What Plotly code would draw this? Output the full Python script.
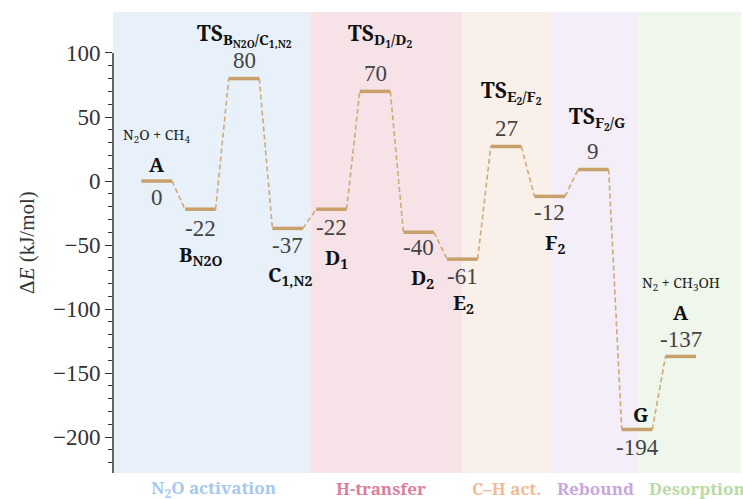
import plotly.graph_objects as go

# Reaction pathway: N2O + CH4 -> N2 + CH3OH
steps = list(range(13))
energies = [0, -22, 80, -37, -22, 70, -40, -61, 27, -12, 9, -194, -137]
value_labels = ["0", "-22", "80", "-37", "-22", "70", "-40", "-61", "27", "-12", "9", "-194", "-137"]
state_names = [
    "A",
    "B<sub>N2O</sub>",
    "TS<sub>B<sub>N2O</sub>/C<sub>1,N2</sub></sub>",
    "C<sub>1,N2</sub>",
    "D<sub>1</sub>",
    "TS<sub>D<sub>1</sub>/D<sub>2</sub></sub>",
    "D<sub>2</sub>",
    "E<sub>2</sub>",
    "TS<sub>E<sub>2</sub>/F<sub>2</sub></sub>",
    "F<sub>2</sub>",
    "TS<sub>F<sub>2</sub>/G</sub>",
    "G",
    "A",
]
species_labels = {0: "N<sub>2</sub>O + CH<sub>4</sub>", 12: "N<sub>2</sub> + CH<sub>3</sub>OH"}

phases = ["N<sub>2</sub>O activation", "H-transfer", "C\u2013H act.", "Rebound", "Desorption"]
phase_bounds = [(-1.0, 3.52), (3.52, 7.0), (7.0, 9.05), (9.05, 11.02), (11.02, 13.4)]

# styling / placement (pixel offsets relative to each level)
phase_fill = ["#E8F1FA", "#F7E2E7", "#FAF0EA", "#F3EEF7", "#EFF6EB"]
phase_text = ["#A6C8EE", "#D9819B", "#F1BA96", "#C8A7DE", "#B7DBA5"]
phase_label_x = [1.30, 5.13, 8.01, 10.05, 11.22]
phase_label_anchor = ["center", "center", "center", "center", "left"]
value_shift = [-16, -19, 18, -17, -18, 18, -15, -17, 18, -16, 18, -18, 17]
name_shift = [17, -46, 44, -47, -49, 56, -46, -44, 54, -47, 52, 15, 44]
name_dx = [0, 0, 0, 2, 5, 5, 4, 1, 5, 5, 4, 3, 0]
name_size = [20, 20, 21, 20, 20, 21, 20, 20, 21, 20, 21, 20, 20]
species_shift = {0: 46, 12: 73}
half_w = 0.35

level_color = "#C7A169"
dash_color = "#CFAA74"
num_font = "Liberation Serif"
label_font = "Noto Serif"

fig = go.Figure()

for (x0, x1), col in zip(phase_bounds, phase_fill):
    fig.add_shape(type="rect", xref="x", yref="paper", x0=x0, x1=x1, y0=0, y1=1,
                  fillcolor=col, line_width=0, layer="below")

# dashed connectors between consecutive levels
cx, cy = [], []
for i in range(len(steps) - 1):
    cx += [steps[i] + half_w, steps[i + 1] - half_w, None]
    cy += [energies[i], energies[i + 1], None]
fig.add_trace(go.Scatter(x=cx, y=cy, mode="lines", hoverinfo="skip",
                         line=dict(color=dash_color, width=1.6, dash="5px,3px")))

# energy levels
lx, ly = [], []
for s, e in zip(steps, energies):
    lx += [s - half_w, s + half_w, None]
    ly += [e, e, None]
fig.add_trace(go.Scatter(x=lx, y=ly, mode="lines", hoverinfo="skip",
                         line=dict(color=level_color, width=3.5)))

for s, e, v, n, vs, ns, dx, sz in zip(steps, energies, value_labels, state_names,
                                      value_shift, name_shift, name_dx, name_size):
    fig.add_annotation(x=s, y=e, text=v, showarrow=False, yshift=vs,
                       font=dict(family=num_font, size=23, color="#444444"))
    fig.add_annotation(x=s, y=e, text="<b>" + n + "</b>", showarrow=False,
                       yshift=ns, xshift=dx,
                       font=dict(family=label_font, size=sz, color="#111111"))

for s, txt in species_labels.items():
    fig.add_annotation(x=steps[s], y=energies[s], text=txt, showarrow=False,
                       yshift=species_shift[s],
                       font=dict(family=label_font, size=14, color="#222222"))

for txt, px, anc, col in zip(phases, phase_label_x, phase_label_anchor, phase_text):
    fig.add_annotation(x=px, xref="x", y=0, yref="paper", yshift=-15,
                       text="<b>" + txt + "</b>", showarrow=False, xanchor=anc,
                       yanchor="middle",
                       font=dict(family=label_font, size=17, color=col))

# y-axis spine bounded between the lowest value and 100
y_range = [-228, 132]
fig.add_shape(type="line", xref="paper", yref="y", x0=0, x1=0, y0=y_range[0], y1=100,
              line=dict(color="#333333", width=1.5))

major = [-200, -150, -100, -50, 0, 50, 100]
minor = [v for v in range(-220, 100, 10) if v not in major]

fig.update_layout(
    width=743, height=499,
    margin=dict(l=113, r=2, t=12, b=26),
    paper_bgcolor="white", plot_bgcolor="white",
    showlegend=False,
    xaxis=dict(range=[-1.0, 13.38], visible=False),
    yaxis=dict(
        range=y_range, showgrid=False, zeroline=False, showline=False,
        tickmode="array", tickvals=major,
        ticks="outside", ticklen=7, tickwidth=1.3, tickcolor="#333333",
        tickfont=dict(family=num_font, size=23, color="#333333"),
        minor=dict(tickmode="array", tickvals=minor, ticks="outside",
                   ticklen=4, tickwidth=1, tickcolor="#333333"),
        title=dict(text="\u0394<i>E</i> (kJ/mol)", standoff=12,
                   font=dict(family=num_font, size=21, color="#333333")),
    ),
)

fig.write_html("out.html")
